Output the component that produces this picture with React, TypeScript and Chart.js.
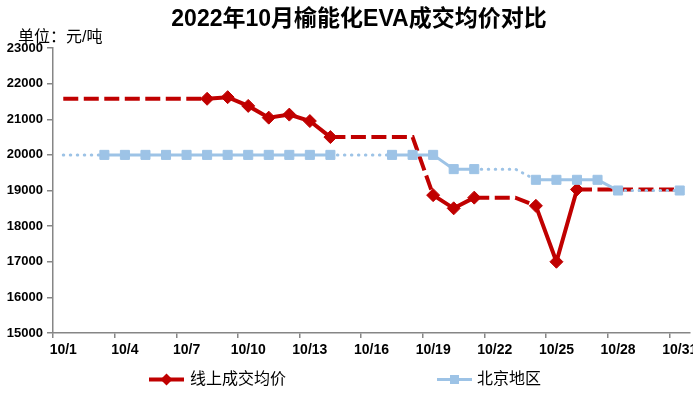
import React, { useEffect, useRef } from 'react';
import { Chart, registerables } from 'chart.js';

Chart.register(...registerables);

const TITLE = '2022年10月榆能化EVA成交均价对比';
const UNIT_LABEL = '单位：元/吨';

const dates = [
  '10/1', '10/2', '10/3', '10/4', '10/5', '10/6', '10/7', '10/8', '10/9', '10/10',
  '10/11', '10/12', '10/13', '10/14', '10/15', '10/16', '10/17', '10/18', '10/19', '10/20',
  '10/21', '10/22', '10/23', '10/24', '10/25', '10/26', '10/27', '10/28', '10/29', '10/30', '10/31',
];
const TICK_EVERY = 3;

const Y_MIN = 15000;
const Y_MAX = 23000;
const Y_STEP = 1000;

const redName = '线上成交均价';
// values as drawn (days without a report carry the neighbouring value, drawn dashed)
const redValues = [
  21575, 21575, 21575, 21575, 21575, 21575, 21575, 21575, 21620, 21375,
  21045, 21130, 20950, 20500, 20500, 20500, 20500, 20500, 18870, 18500,
  18800, 18800, 18800, 18570, 17000, 19030, 19030, 19030, 19030, 19030, 19030,
];
const redReported = [
  0, 0, 0, 0, 0, 0, 0, 1, 1, 1,
  1, 1, 1, 1, 0, 0, 0, 0, 1, 1,
  1, 0, 0, 1, 1, 1, 0, 0, 0, 0, 0,
];

const blueName = '北京地区';
const blueValues = [
  20000, 20000, 20000, 20000, 20000, 20000, 20000, 20000, 20000, 20000,
  20000, 20000, 20000, 20000, 20000, 20000, 20000, 20000, 20000, 19600,
  19600, 19600, 19600, 19300, 19300, 19300, 19300, 19000, 19000, 19000, 19000,
];
const blueReported = [
  0, 0, 1, 1, 1, 1, 1, 1, 1, 1,
  1, 1, 1, 1, 0, 0, 1, 1, 1, 1,
  1, 0, 0, 1, 1, 1, 1, 1, 0, 0, 1,
];

const RED = '#C00000';
const BLUE = '#9DC3E6';
const AXIS = '#868686';
const FONT = '"Liberation Sans", Arial, "Noto Sans CJK SC", sans-serif';

const CANVAS_W = 720;

const overlayPlugin = {
  id: 'overlayText',
  afterDraw(chart: any) {
    const ctx = chart.ctx as CanvasRenderingContext2D;
    ctx.save();
    // title
    ctx.fillStyle = '#000';
    ctx.textAlign = 'center';
    ctx.textBaseline = 'middle';
    ctx.font = `bold 23px ${FONT}`;
    ctx.fillText(TITLE, 359, 20);
    // unit label
    ctx.textAlign = 'left';
    ctx.font = `16px ${FONT}`;
    ctx.fillText(UNIT_LABEL, 18, 38);

    // legend
    const ly = 379.5;
    // red
    ctx.strokeStyle = RED;
    ctx.lineWidth = 4;
    ctx.beginPath();
    ctx.moveTo(149, ly);
    ctx.lineTo(184, ly);
    ctx.stroke();
    ctx.fillStyle = RED;
    ctx.beginPath();
    const dx = 166.5, dr = 6;
    ctx.moveTo(dx, ly - dr);
    ctx.lineTo(dx + dr, ly);
    ctx.lineTo(dx, ly + dr);
    ctx.lineTo(dx - dr, ly);
    ctx.closePath();
    ctx.fill();
    ctx.fillStyle = '#000';
    ctx.font = `16px ${FONT}`;
    ctx.fillText(redName, 190, ly);
    // blue
    ctx.strokeStyle = BLUE;
    ctx.lineWidth = 3;
    ctx.beginPath();
    ctx.moveTo(437, ly);
    ctx.lineTo(472, ly);
    ctx.stroke();
    ctx.fillStyle = BLUE;
    ctx.fillRect(454.5 - 4.5, ly - 4.5, 9, 9);
    ctx.fillStyle = '#000';
    ctx.fillText(blueName, 477, ly);
    ctx.restore();
  },
};

export default function App() {
  const ref = useRef<HTMLCanvasElement | null>(null);

  useEffect(() => {
    if (!ref.current) return;
    const redDash = (c: any) =>
      !redReported[c.p0DataIndex] || !redReported[c.p1DataIndex] ? [15, 5.5] : undefined;
    const blueDotted = (c: any) => !blueReported[c.p0DataIndex] || !blueReported[c.p1DataIndex];
    const tickCol = (c: any) =>
      typeof c.index === 'number' && c.index % TICK_EVERY === 0 ? AXIS : 'rgba(0,0,0,0)';

    const chart = new Chart(ref.current, {
      type: 'line',
      data: {
        labels: dates,
        datasets: [
          {
            label: redName,
            data: redValues,
            borderColor: RED,
            backgroundColor: RED,
            borderWidth: 4,
            pointStyle: 'rectRot',
            pointRadius: (c: any) => (redReported[c.dataIndex] ? 6.5 : 0),
            pointBorderWidth: 1,
            pointBorderColor: RED,
            pointBackgroundColor: RED,
            tension: 0,
            order: 2,
            segment: {
              borderDash: redDash,
            },
          },
          {
            label: blueName,
            data: blueValues,
            borderColor: BLUE,
            backgroundColor: BLUE,
            borderWidth: 3,
            pointStyle: 'rect',
            pointRadius: (c: any) => (blueReported[c.dataIndex] ? 6.4 : 0),
            pointBorderWidth: 1,
            pointBorderColor: BLUE,
            pointBackgroundColor: BLUE,
            tension: 0,
            order: 1,
            segment: {
              borderDash: (c: any) => (blueDotted(c) ? [0.5, 6.5] : undefined),
              borderCapStyle: (c: any) => (blueDotted(c) ? 'round' : 'butt'),
            },
          },
        ],
      },
      options: {
        animation: false,
        responsive: true,
        maintainAspectRatio: false,
        events: [],
        layout: { padding: { top: 48, right: CANVAS_W - 690, bottom: 0, left: 0 } },
        plugins: {
          legend: { display: false },
          title: { display: false },
          tooltip: { enabled: false },
        },
        scales: {
          x: {
            type: 'category',
            offset: true,
            border: { display: true, color: AXIS, width: 1.5 },
            grid: {
              offset: true,
              drawOnChartArea: false,
              drawTicks: true,
              tickLength: 5,
              lineWidth: 1.5,
              color: tickCol,
              tickColor: tickCol,
            },
            ticks: {
              autoSkip: false,
              maxRotation: 0,
              minRotation: 0,
              padding: 4,
              color: '#000',
              font: { family: FONT, size: 14, weight: 'bold' },
              callback: (_v: any, i: number) => (i % TICK_EVERY === 0 ? dates[i] : ''),
            },
            afterFit: (s: any) => {
              s.height = 65;
            },
          },
          y: {
            min: Y_MIN,
            max: Y_MAX,
            border: { display: true, color: AXIS, width: 1.5 },
            grid: {
              drawOnChartArea: false,
              drawTicks: true,
              tickLength: 6,
              lineWidth: 1.5,
              color: AXIS,
            },
            ticks: {
              stepSize: Y_STEP,
              padding: 4,
              color: '#000',
              font: { family: FONT, size: 13, weight: 'bold' },
              callback: (v: any) => String(v),
            },
            afterFit: (s: any) => {
              s.width = 53;
            },
          },
        },
      } as any,
      plugins: [overlayPlugin],
    });
    return () => chart.destroy();
  }, []);

  return (
    <div style={{ position: 'fixed', left: 0, top: 0, width: 693, height: 398, overflow: 'hidden', background: '#fff' }}>
      <div style={{ position: 'relative', width: CANVAS_W, height: 398 }}>
        <canvas ref={ref} />
      </div>
    </div>
  );
}
